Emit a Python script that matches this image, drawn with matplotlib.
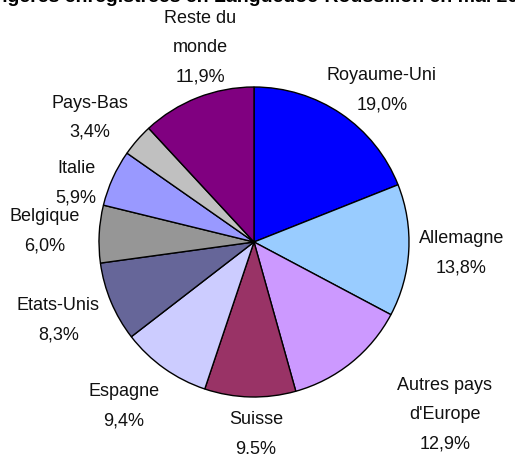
import numpy as np
import matplotlib
matplotlib.use('Agg')
import matplotlib.pyplot as plt

plt.rcParams['font.family'] = ['Liberation Sans', 'DejaVu Sans']

# data, clockwise from 12 o'clock
countries = ['Royaume-Uni', 'Allemagne', "Autres pays\nd'Europe", 'Suisse', 'Espagne',
             'Etats-Unis', 'Belgique', 'Italie', 'Pays-Bas', 'Reste du\nmonde']
shares = [19.0, 13.8, 12.9, 9.5, 9.4, 8.3, 6.0, 5.9, 3.4, 11.9]
colors = ['#0000FF', '#99CCFF', '#CC99FF', '#993366', '#CCCCFF',
          '#666699', '#969696', '#9999FF', '#C0C0C0', '#800080']
title = 'Nuitées étrangères enregistrées en Languedoc-Roussillon en mai 2010'

# label layout (distance in radii, angle nudge in degrees)
label_dist = [1.28, 1.34, 1.66, 1.24, 1.35, 1.36, 1.35, 1.21, 1.33, 1.30]
label_nudge = [-6, 0, 9, 2, -3, -1, 0, 6, 4, -6]

W, H = 515, 454
cx, cy, R = 254, 242, 155

fig = plt.figure(figsize=(W / 100, H / 100), dpi=100)
ax = fig.add_axes([0, 0, 1, 1])

wedges, _ = ax.pie(shares, colors=colors, startangle=90, counterclock=False,
                   radius=R, center=(0, 0), frame=True,
                   wedgeprops={'edgecolor': 'black', 'linewidth': 1.0})
ax.set_xlim(-cx, W - cx)
ax.set_ylim(-(H - cy), cy)
ax.set_aspect('equal')
ax.axis('off')

for w, name, val, d, nd in zip(wedges, countries, shares, label_dist, label_nudge):
    ang = np.deg2rad((w.theta1 + w.theta2) / 2 + nd)
    txt = '%s\n%s%%' % (name, ('%.1f' % val).replace('.', ','))
    ax.text(d * R * np.cos(ang), d * R * np.sin(ang), txt, ha='center', va='center',
            fontsize=13, linespacing=1.95, color='#111111')

fig.text(540 / W, 1.005, title, ha='right', va='center', fontsize=14,
         fontweight='bold')

fig.savefig('out.png', dpi=100)
